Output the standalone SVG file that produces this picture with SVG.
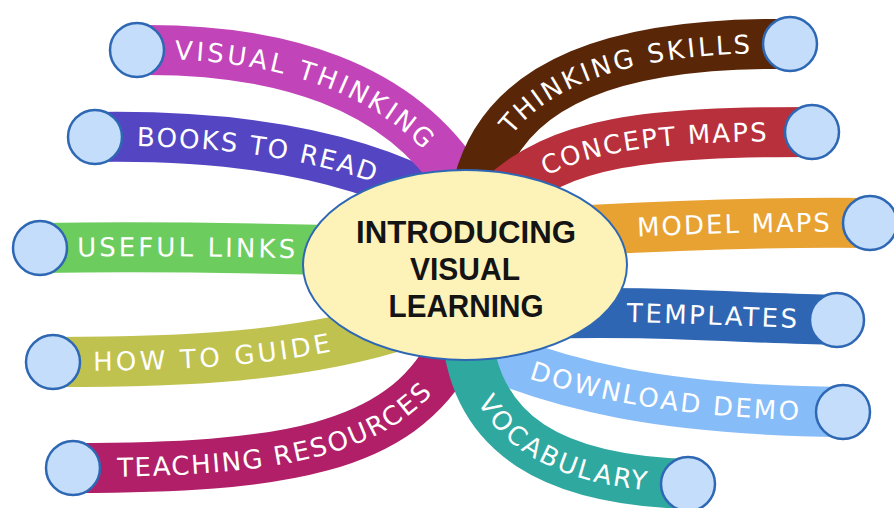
<svg xmlns="http://www.w3.org/2000/svg" width="894" height="508" viewBox="0 0 894 508">
<style>
.band{fill:none;stroke-width:50;stroke-linecap:butt}
.end{fill:#c4ddfa;stroke:#2e68b4;stroke-width:2.5}
.lbl{font-family:"DejaVu Sans","Liberation Sans",sans-serif;font-size:26px;fill:#ffffff;dominant-baseline:central}
.ctr{font-family:"Liberation Sans",Arial,sans-serif;font-weight:bold;font-size:32px;fill:#141414;text-anchor:middle}
</style>
<rect width="894" height="508" fill="#ffffff"/>
<g id="connectors">
<path id="p-books" class="band" stroke="#5446c2" d="M95,137 C220,135 350,150 445,205"/>
<path id="p-visual" class="band" stroke="#c244b9" d="M137,50 C280,48 400,85 462,185"/>
<path id="p-skills" class="band" stroke="#5a2608" d="M478,185 C505,80 620,42 790,44"/>
<path id="p-concept" class="band" stroke="#b8303c" d="M498,200 C560,140 650,132 812,132"/>
<path id="p-model" class="band" stroke="#e8a232" d="M590,230 C700,224 780,222 870,223"/>
<path id="p-templates" class="band" stroke="#2f66b3" d="M540,314 C640,310 740,318 837,320"/>
<path id="p-links" class="band" stroke="#6dcc5e" d="M40,248 C150,246 250,248 330,250"/>
<path id="p-guide" class="band" stroke="#bfc24f" d="M53,362 C180,362 300,358 410,322"/>
<path id="p-teaching" class="band" stroke="#b01f67" d="M73,468 C280,468 400,450 452,350"/>
<path id="p-demo" class="band" stroke="#86bcf8" d="M480,350 C560,385 660,410 843,412"/>
<path id="p-vocab" class="band" stroke="#2fa89f" d="M466,320 C470,440 560,480 688,484"/>
</g>
<g id="node-visual-thinking">
<circle class="end" cx="137" cy="50" r="27"/>
<text class="lbl"><textPath href="#p-visual" startOffset="38" textLength="278">VISUAL THINKING</textPath></text>
</g>
<g id="node-books-to-read">
<circle class="end" cx="95" cy="137" r="27"/>
<text class="lbl"><textPath href="#p-books" startOffset="42" textLength="243">BOOKS TO READ</textPath></text>
</g>
<g id="node-useful-links">
<circle class="end" cx="40" cy="248" r="27"/>
<text class="lbl"><textPath href="#p-links" startOffset="37" textLength="218">USEFUL LINKS</textPath></text>
</g>
<g id="node-how-to-guide">
<circle class="end" cx="53" cy="362" r="27"/>
<text class="lbl"><textPath href="#p-guide" startOffset="40" textLength="238">HOW TO GUIDE</textPath></text>
</g>
<g id="node-teaching-resources">
<circle class="end" cx="73" cy="468" r="27"/>
<text class="lbl"><textPath href="#p-teaching" startOffset="44" textLength="328">TEACHING RESOURCES</textPath></text>
</g>
<g id="node-thinking-skills">
<circle class="end" cx="790" cy="44" r="27"/>
<text class="lbl"><textPath href="#p-skills" startOffset="62" textLength="268">THINKING SKILLS</textPath></text>
</g>
<g id="node-concept-maps">
<circle class="end" cx="812" cy="132" r="27"/>
<text class="lbl"><textPath href="#p-concept" startOffset="55" textLength="229">CONCEPT MAPS</textPath></text>
</g>
<g id="node-model-maps">
<circle class="end" cx="870" cy="223" r="27"/>
<text class="lbl"><textPath href="#p-model" startOffset="47" textLength="193">MODEL MAPS</textPath></text>
</g>
<g id="node-templates">
<circle class="end" cx="837" cy="320" r="27"/>
<text class="lbl"><textPath href="#p-templates" startOffset="87" textLength="170">TEMPLATES</textPath></text>
</g>
<g id="node-download-demo">
<circle class="end" cx="843" cy="412" r="27"/>
<text class="lbl"><textPath href="#p-demo" startOffset="55" textLength="272">DOWNLOAD DEMO</textPath></text>
</g>
<g id="node-vocabulary">
<circle class="end" cx="688" cy="484" r="27"/>
<text class="lbl"><textPath href="#p-vocab" startOffset="80" textLength="190">VOCABULARY</textPath></text>
</g>
<g id="node-center">
<ellipse cx="465" cy="265" rx="162" ry="95" fill="#fdf3b8" stroke="#2e68b4" stroke-width="2"/>
<text class="ctr" x="466" y="243" textLength="220" lengthAdjust="spacingAndGlyphs">INTRODUCING</text>
<text class="ctr" x="465" y="280" textLength="110" lengthAdjust="spacingAndGlyphs">VISUAL</text>
<text class="ctr" x="466" y="317" textLength="155" lengthAdjust="spacingAndGlyphs">LEARNING</text>
</g>
</svg>
